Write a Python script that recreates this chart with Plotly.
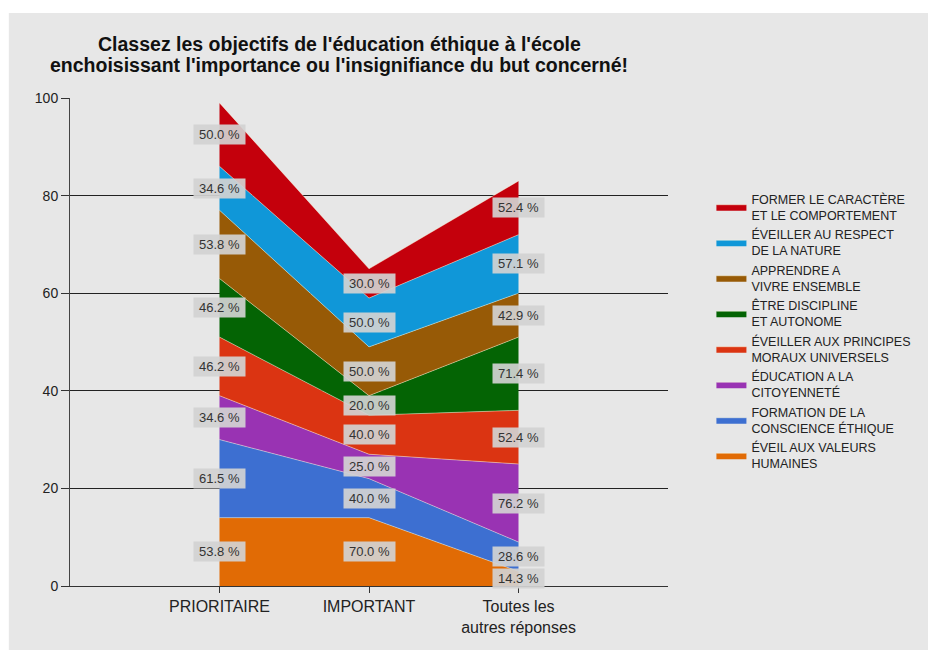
import plotly.graph_objects as go

categories = ["PRIORITAIRE", "IMPORTANT", "Toutes les<br>autres réponses"]

# series from bottom of the stack to top
series_names = [
    "ÉVEIL AUX VALEURS<br>HUMAINES",
    "FORMATION DE LA<br>CONSCIENCE ÉTHIQUE",
    "ÉDUCATION A LA<br>CITOYENNETÉ",
    "ÉVEILLER AUX PRINCIPES<br>MORAUX UNIVERSELS",
    "ÊTRE DISCIPLINE<br>ET AUTONOME",
    "APPRENDRE A<br>VIVRE ENSEMBLE",
    "ÉVEILLER AU RESPECT<br>DE LA NATURE",
    "FORMER LE CARACTÈRE<br>ET LE COMPORTEMENT",
]

eveil_valeurs = [14, 14, 3]
formation_conscience = [16, 8, 6]
education_citoyennete = [9, 5, 16]
principes_moraux = [12, 8, 11]
discipline_autonome = [12, 4, 15]
vivre_ensemble = [14, 10, 9]
respect_nature = [9, 10, 12]
caractere_comportement = [13, 6, 11]

eveil_valeurs_pct = [53.8, 70.0, 14.3]
formation_conscience_pct = [61.5, 40.0, 28.6]
education_citoyennete_pct = [34.6, 25.0, 76.2]
principes_moraux_pct = [46.2, 40.0, 52.4]
discipline_autonome_pct = [46.2, 20.0, 71.4]
vivre_ensemble_pct = [53.8, 50.0, 42.9]
respect_nature_pct = [34.6, 50.0, 57.1]
caractere_comportement_pct = [50.0, 30.0, 52.4]

values = [eveil_valeurs, formation_conscience, education_citoyennete, principes_moraux,
          discipline_autonome, vivre_ensemble, respect_nature, caractere_comportement]
pcts = [eveil_valeurs_pct, formation_conscience_pct, education_citoyennete_pct, principes_moraux_pct,
        discipline_autonome_pct, vivre_ensemble_pct, respect_nature_pct, caractere_comportement_pct]

colors = ["#e16b05", "#3d6fd1", "#9933b3", "#db3412",
          "#046404", "#975a06", "#1097d8", "#c4000c"]

title_lines = ["Classez les objectifs de l'éducation éthique à l'école",
               "enchoisissant l'importance ou l'insignifiance du but concerné!"]

FONT = "Liberation Sans, Arial, sans-serif"

W, H = 928, 650
L, R, T, B = 70, 252, 98, 64
PW, PH = W - L - R, H - T - B


def px_x(px):
    return (px - L) / PW


def px_y(py):
    return (H - B - py) / PH


fig = go.Figure()
annotations = []
cum = [0.0] * len(categories)
for name, vals, pc, col in zip(series_names, values, pcts, colors):
    fig.add_trace(go.Scatter(
        x=categories, y=vals, name=name, stackgroup="one", mode="lines",
        line=dict(color="rgba(255,255,225,0.55)", width=0.8),
        fillcolor=col, hoverinfo="skip",
    ))
    for i, (c, v, p) in enumerate(zip(categories, vals, pc)):
        annotations.append(dict(
            x=c, y=cum[i] + v / 2, xref="x", yref="y", text=f"{p:.1f} %",
            showarrow=False, bgcolor="rgba(210,210,210,0.92)",
            font=dict(family=FONT, size=13, color="#333333"),
            width=49, height=17, align="center",
        ))
        cum[i] += v

for line, cy in zip(title_lines, [44, 65]):
    annotations.append(dict(
        x=px_x(343), y=px_y(cy), xref="paper", yref="paper", xanchor="center",
        yanchor="middle", showarrow=False, text=f"<b>{line}</b>",
        font=dict(family=FONT, size=19.5, color="#111111"),
    ))

fig.update_layout(
    width=W, height=H,
    margin=dict(l=L, r=R, t=T, b=B),
    paper_bgcolor="#e7e7e7", plot_bgcolor="#e7e7e7",
    font=dict(family=FONT, color="#222222"),
    xaxis=dict(range=[-1, 3], showgrid=False, showline=True, linecolor="#333333",
               ticks="outside", ticklen=6, tickcolor="#333333",
               tickfont=dict(family=FONT, size=16, color="#222222"), zeroline=False),
    yaxis=dict(range=[0, 100], dtick=20, showgrid=True, gridcolor="#222222", gridwidth=1,
               showline=True, linecolor="#444444", ticks="outside", ticklen=8,
               tickcolor="#333333", zeroline=False,
               tickfont=dict(family=FONT, size=14, color="#222222")),
    legend=dict(x=px_x(720), xanchor="left", y=px_y(184), yanchor="top",
                traceorder="reversed", bgcolor="rgba(0,0,0,0)",
                font=dict(family=FONT, size=12.5, color="#222222")),
    annotations=annotations,
    shapes=[
        dict(type="rect", xref="paper", yref="paper", x0=px_x(-10), x1=px_x(8),
             y0=px_y(H + 10), y1=px_y(-10), fillcolor="white", line=dict(width=0), layer="below"),
        dict(type="rect", xref="paper", yref="paper", x0=px_x(-10), x1=px_x(W + 30),
             y0=px_y(13), y1=px_y(-10), fillcolor="white", line=dict(width=0), layer="below"),
    ],
)

fig.write_html("out.html", config={"displayModeBar": False},
               post_script="document.body.style.margin='0';document.body.style.overflow='hidden';")
